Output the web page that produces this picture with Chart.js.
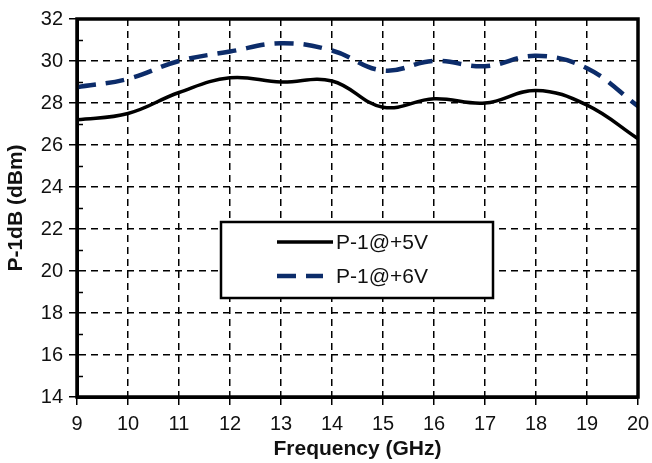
<!DOCTYPE html>
<html>
<head>
<meta charset="utf-8">
<script src="https://cdn.jsdelivr.net/npm/chart.js@4.4.1/dist/chart.umd.min.js"></script>
<style>
  html, body { margin: 0; padding: 0; background: #fff; }
  #wrap { width: 652px; height: 463px; }
</style>
</head>
<body>
<div id="wrap"><canvas id="c" width="652" height="463"></canvas></div>
<script>
const freqs = [9, 10, 11, 12, 13, 14, 15, 16, 17, 18, 19, 20];
const p1At5V = [27.2, 27.5, 28.5, 29.2, 29.0, 29.05, 27.8, 28.2, 28.0, 28.6, 27.9, 26.3];
const p1At6V = [28.75, 29.15, 30.0, 30.45, 30.85, 30.5, 29.55, 30.0, 29.75, 30.25, 29.65, 27.85];
const seriesLabels = ['P-1@+5V', 'P-1@+6V'];
const xTitle = 'Frequency (GHz)';
const yTitle = 'P-1dB (dBm)';

const FONT = "'Liberation Sans', Arial, sans-serif";
const NAVY = '#0c2c6a';

const toXY = (arr) => freqs.map((f, i) => ({ x: f, y: arr[i] }));

const frameAndTicks = {
  id: 'frameAndTicks',
  afterDraw(chart) {
    const { ctx, chartArea: a, scales } = chart;
    ctx.save();
    ctx.strokeStyle = '#000';
    ctx.lineWidth = 1.5;
    const ys = scales.y;
    for (let v = ys.min + 1; v < ys.max; v += 2) {
      const py = Math.round(ys.getPixelForValue(v)) + 0.5;
      ctx.beginPath();
      ctx.moveTo(a.left, py);
      ctx.lineTo(a.left + 6, py);
      ctx.stroke();
    }
    ctx.lineWidth = 3.5;
    ctx.strokeRect(a.left, a.top, a.right - a.left, a.bottom - a.top);
    ctx.restore();
  }
};

const boxLegend = {
  id: 'boxLegend',
  afterDraw(chart) {
    const { ctx } = chart;
    const bx = 221, by = 222, bw = 272, bh = 76;
    ctx.save();
    ctx.fillStyle = '#fff';
    ctx.fillRect(bx, by, bw, bh);
    ctx.strokeStyle = '#000';
    ctx.lineWidth = 2.5;
    ctx.strokeRect(bx, by, bw, bh);
    const rows = [242, 276];
    chart.data.datasets.forEach((ds, i) => {
      const y = rows[i];
      ctx.beginPath();
      ctx.strokeStyle = ds.borderColor;
      ctx.lineWidth = ds.borderWidth;
      ctx.setLineDash(ds.borderDash || []);
      ctx.moveTo(277, y);
      ctx.lineTo(i === 0 ? 333 : 323, y);
      ctx.stroke();
      ctx.setLineDash([]);
      ctx.fillStyle = '#111';
      ctx.font = '21px ' + FONT;
      ctx.textBaseline = 'middle';
      ctx.textAlign = 'left';
      ctx.fillText(ds.label, 336, y + 1);
    });
    ctx.restore();
  }
};

new Chart(document.getElementById('c'), {
  type: 'line',
  data: {
    datasets: [
      {
        label: seriesLabels[0],
        data: toXY(p1At5V),
        borderColor: '#000',
        borderWidth: 3.5,
        pointRadius: 0,
        tension: 0.4,
        fill: false
      },
      {
        label: seriesLabels[1],
        data: toXY(p1At6V),
        borderColor: NAVY,
        borderWidth: 4.5,
        borderDash: [19, 10],
        pointRadius: 0,
        tension: 0.4,
        fill: false
      }
    ]
  },
  options: {
    responsive: false,
    animation: false,
    devicePixelRatio: 1,
    layout: { padding: { top: 19, right: 14, left: 0, bottom: 0 } },
    plugins: {
      legend: { display: false },
      tooltip: { enabled: false }
    },
    scales: {
      x: {
        type: 'linear',
        min: 9, max: 20,
        ticks: { stepSize: 1, color: '#111', font: { family: FONT, size: 20 }, padding: 7, maxRotation: 0 },
        grid: { color: '#000', lineWidth: 1.5, tickLength: 8, drawTicks: true },
        border: { display: true, color: '#000', width: 3, dash: [7, 5] },
        title: { display: true, text: xTitle, color: '#111', font: { family: FONT, size: 21, weight: 'bold' }, padding: { top: 0, bottom: 1 } },
        afterFit(s) { s.height = 66; s.paddingLeft = 0; s.paddingRight = 0; }
      },
      y: {
        type: 'linear',
        min: 14, max: 32,
        ticks: { stepSize: 2, color: '#111', font: { family: FONT, size: 20 }, padding: 6 },
        grid: { color: '#000', lineWidth: 1.5, tickLength: 8, drawTicks: true },
        border: { display: true, color: '#000', width: 3, dash: [7, 5] },
        title: { display: true, text: yTitle, color: '#111', font: { family: FONT, size: 21, weight: 'bold' }, padding: { top: 4, bottom: 0 } },
        afterFit(s) { s.width = 77; s.paddingTop = 0; s.paddingBottom = 0; }
      }
    }
  },
  plugins: [frameAndTicks, boxLegend]
});
</script>
</body>
</html>
